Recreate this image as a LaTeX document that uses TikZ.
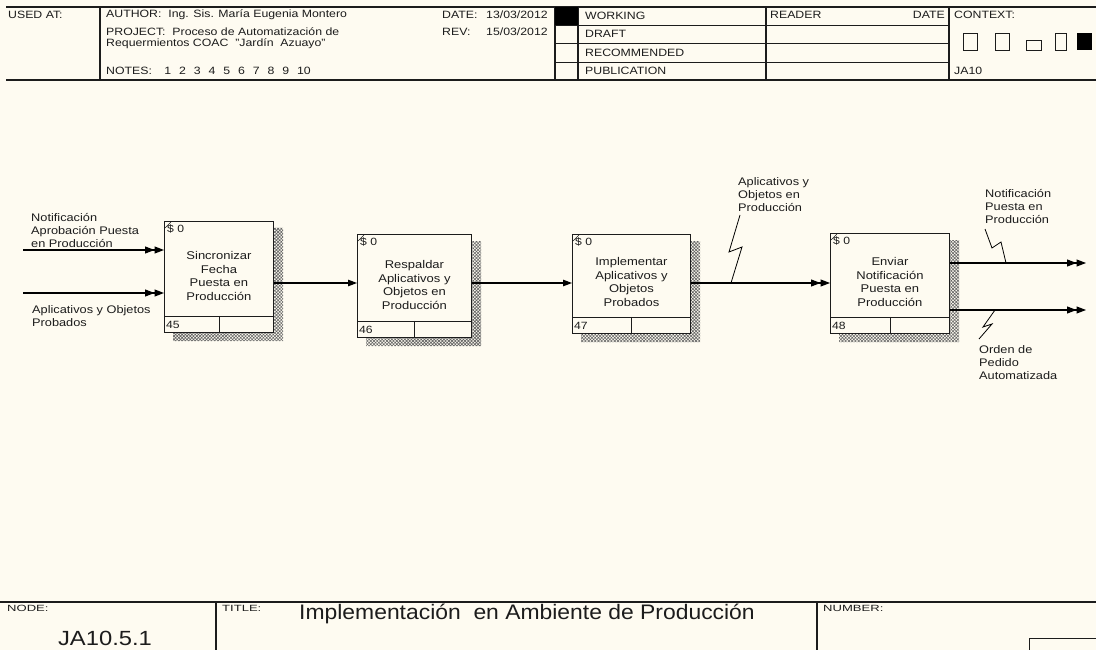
\documentclass[tikz,border=0pt]{standalone}
\usepackage{fontspec}
\setmainfont{Liberation Sans}[FakeStretch=1.16]
\newfontfamily\titlefont{Liberation Sans}[FakeStretch=1.09]
\newfontfamily\widefont{Liberation Sans}[FakeStretch=1.45]
\usetikzlibrary{arrows.meta,patterns.meta,calc}

\definecolor{paper}{RGB}{254,251,241}
\definecolor{ink}{RGB}{28,28,28}
\definecolor{hatchgray}{RGB}{100,100,100}

% one IDEF0 activity box: name, left, top, width, height, text, number, text centre below top
\newcommand\activity[8]{%
  \path[shadowfill] (#2+#4,#3+7) -- (#2+#4+10,#3+7) -- (#2+#4+10,#3+#5+9)
        -- (#2+9,#3+#5+9) -- (#2+9,#3+#5) -- (#2+#4,#3+#5) -- cycle;
  \node[actbox, minimum width=#4pt, minimum height=#5pt] (#1) at (#2,#3) {};
  \draw[boxline] ($(#1.south west)+(0,-17)$) -- ($(#1.south east)+(0,-17)$);
  \draw[boxline] ($(#1.south west)!0.5!(#1.south east)+(0,-17)$) -- ($(#1.south west)!0.5!(#1.south east)$);
  \node[boxtext] (#1-t) at ($(#1.north)+(0,#8)$) {#6};
  \node[small, anchor=west] (#1-c) at ($(#1.north west)+(3,8)$) {\$ 0};
  \draw[ink, line width=0.5pt] ($(#1.north west)+(1,7)$) -- ($(#1.north west)+(7,1)$);
  \node[small, anchor=west] (#1-n) at ($(#1.south west)+(2,-8)$) {#7};
}
% spacing between the note numbers
\newcommand\ngap{\hspace{7.9pt}}

\begin{document}
\begin{tikzpicture}[x=1pt,y=-1pt,
  actbox/.style={draw=ink, line width=0.9pt, fill=paper, anchor=north west, inner sep=0pt},
  boxline/.style={draw=ink, line width=0.8pt},
  shadowfill/.style={pattern={Hatch[angle=45,distance=2.3pt,line width=0.6pt]}, pattern color=hatchgray},
  boxtext/.style={text=ink, align=center, inner sep=0pt, font=\fontsize{11.2}{13.6}\selectfont},
  small/.style={text=ink, inner sep=0pt, font=\fontsize{10.5}{12}\selectfont},
  lbl/.style={text=ink, align=left, anchor=north west, inner sep=0pt, font=\fontsize{11}{13.2}\selectfont},
  hdr/.style={text=ink, anchor=west, inner sep=0pt, font=\fontsize{10.6}{12}\selectfont},
  tiny/.style={text=ink, anchor=west, inner sep=0pt, font=\widefont\fontsize{9}{10}\selectfont},
  rule/.style={draw=ink, line width=1.1pt},
  thin/.style={draw=ink, line width=0.8pt},
  flow/.style={draw=black, line width=1.1pt},
  squig/.style={draw=black, line width=0.8pt},
  one/.style={-{Triangle[length=9pt,width=6.5pt]}},
  two/.style={-{Triangle[length=9.5pt,width=7pt]Triangle[length=9.5pt,width=7pt]}},
]
\useasboundingbox (0,0) rectangle (1096,650);
\fill[paper] (0,0) rectangle (1096,650);

% ---------- header block ----------
\draw[rule] (6,7) -- (1096,7);
\draw[rule] (6,80) -- (1096,80);
\foreach \x in {100,555,578,766,949} \draw[rule] (\x,7) -- (\x,80);
\foreach \y in {25,43,62} \draw[thin] (555,\y) -- (949,\y);
\fill[black] (555,7) rectangle (578,25);

\node[hdr] (usedat) at (8,15) {USED AT:};
\node[hdr] (author) at (106,15) {AUTHOR:\ \ Ing. Sis. María Eugenia Montero};
\node[hdr] (project) at (106,32) {PROJECT:\ \ Proceso de Automatización de};
\node[hdr] (project2) at (106,44) {Requermientos COAC\ \ "Jardín\ \ Azuayo"};
\node[hdr] (notes) at (106,71) {NOTES:\hspace{12.5pt}1\ngap 2\ngap 3\ngap 4\ngap 5\ngap 6\ngap 7\ngap 8\ngap 9\ngap 10};
\node[hdr] (datek) at (442,15) {DATE:};
\node[hdr] (datev) at (486,15) {13/03/2012};
\node[hdr] (revk) at (442,32) {REV:};
\node[hdr] (revv) at (486,32) {15/03/2012};
\node[hdr] (working) at (585,16) {WORKING};
\node[hdr] (draft) at (585,34) {DRAFT};
\node[hdr] (recom) at (585,52.5) {RECOMMENDED};
\node[hdr] (pub) at (585,71) {PUBLICATION};
\node[hdr] (reader) at (770,15) {READER};
\node[hdr, anchor=east] (rdate) at (945,15) {DATE};
\node[hdr] (context) at (954,15) {CONTEXT:};
\node[hdr] (ctxnode) at (954,71) {JA10};
\draw[thin] (963,33) rectangle (977,50);
\draw[thin] (995,33) rectangle (1009,50);
\draw[thin] (1026,40) rectangle (1041,50);
\draw[thin] (1055,33) rectangle (1066,50);
\fill[black] (1077,33) rectangle (1092,50);

% ---------- activities ----------
\activity{b1}{164}{221}{109}{111}{Sincronizar\\Fecha\\Puesta en\\Producción}{45}{55}
\activity{b2}{357}{234}{114}{103}{Respaldar\\Aplicativos y\\Objetos en\\Producción}{46}{51}
\activity{b3}{572}{234}{118}{99}{Implementar\\Aplicativos y\\Objetos\\Probados}{47}{48}
\activity{b4}{830}{233}{119}{100}{Enviar\\Notificación\\Puesta en\\Producción}{48}{49}

% ---------- arrows ----------
\coordinate (in1) at (23,250);
\coordinate (in2) at (23,293);
\coordinate (lvl) at (0,283);
\coordinate (out1) at (1086,263);
\coordinate (out2) at (1086,310);

\draw[flow, two] (in1) -- (in1 -| b1.west);
\draw[flow, two] (in2) -- (in2 -| b1.west);
\draw[flow, one] (b1.east |- lvl) -- (b2.west |- lvl);
\draw[flow, one] (b2.east |- lvl) -- (b3.west |- lvl);
\draw[flow, two] (b3.east |- lvl) -- (b4.west |- lvl);
\draw[flow, two] (b4.east |- out1) -- (out1);
\draw[flow, two] (b4.east |- out2) -- (out2);

% ---------- arrow labels ----------
\node[lbl] (lin1) at (31,213) {Notificación\\Aprobación Puesta\\en Producción};
\node[lbl] (lin2) at (32,305) {Aplicativos y Objetos\\Probados};
\node[lbl] (lmid) at (738,177) {Aplicativos y\\Objetos en\\Producción};
\node[lbl] (lout1) at (985,189) {Notificación\\Puesta en\\Producción};
\node[lbl] (lout2) at (979,345) {Orden de\\Pedido\\Automatizada};

% squiggles tying labels to their arrows
\coordinate (s1) at (740,215);
\coordinate (s1e) at (731,283);
\draw[squig] (s1) -- (729,252) -- (742,247) -- (s1e);
\coordinate (s2) at (985,229);
\coordinate (s2e) at (1006,263);
\draw[squig] (s2) -- (992,248) -- (1001,242) -- (s2e);
\coordinate (s3) at (995,310);
\coordinate (s3e) at (979,339);
\draw[squig] (s3) -- (983,327) -- (992,324) -- (s3e);

% ---------- footer block ----------
\draw[rule] (0,602) -- (1096,602);
\draw[rule] (216,602) -- (216,650);
\draw[rule] (817,602) -- (817,650);
\draw[thin] (1029,650) -- (1029,638) -- (1096,638);
\node[tiny] (nodek) at (7,608) {NODE:};
\node[text=ink, inner sep=0pt, font=\fontsize{20.5}{22}\selectfont] (nodev) at (105,638) {JA10.5.1};
\node[tiny] (titlek) at (222,608) {TITLE:};
\node[text=ink, inner sep=0pt, font=\titlefont\fontsize{21}{24}\selectfont] (titlev) at (527,614) {Implementación\ \ en Ambiente de Producción};
\node[tiny] (numk) at (823,608) {NUMBER:};
\end{tikzpicture}
\end{document}
